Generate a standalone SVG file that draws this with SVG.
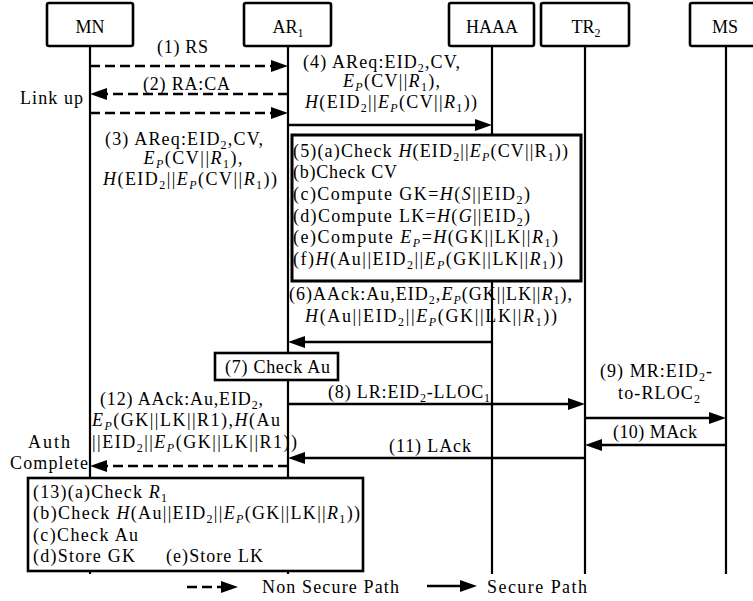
<svg xmlns="http://www.w3.org/2000/svg" width="753" height="601" viewBox="0 0 753 601">
  <style>
    .t { font-family: "Liberation Serif", "Times New Roman", serif; font-size: 18px; fill: #000; }
    .m { text-anchor: middle; }
    .i { font-style: italic; }
    .b { font-size: 12px; baseline-shift: -3.5px; }
    .box { fill: #fff; stroke: #000; stroke-width: 2.6; }
    .life { stroke: #000; stroke-width: 2.2; fill: none; }
    .msg { stroke: #000; stroke-width: 2.5; fill: none; marker-end: url(#ah); }
    .dash { stroke-dasharray: 10 5; }
  </style>
  <defs>
    <marker id="ah" markerUnits="userSpaceOnUse" markerWidth="17" markerHeight="13" refX="7" refY="6.5" orient="auto">
      <path d="M0,0.5 L17,6.5 L0,12.5 z" fill="#000"/>
    </marker>
  </defs>
  <rect width="753" height="601" fill="#fff"/>

  <!-- participants: header box, name and lifeline -->
  <g id="node-mn">
    <line class="life" x1="90" y1="46" x2="90" y2="574"/>
    <rect class="box" x="47" y="3" width="86" height="43" rx="2"/>
    <text class="t m" x="90" y="33">MN</text>
  </g>
  <g id="node-ar1">
    <line class="life" x1="288" y1="46" x2="288" y2="574"/>
    <rect class="box" x="244" y="3" width="87" height="43" rx="2"/>
    <text class="t m" x="288" y="33">AR<tspan class="b">1</tspan></text>
  </g>
  <g id="node-haaa">
    <line class="life" x1="492" y1="46" x2="492" y2="574"/>
    <rect class="box" x="449" y="3" width="85" height="43" rx="2"/>
    <text class="t m" x="492" y="33">HAAA</text>
  </g>
  <g id="node-tr2">
    <line class="life" x1="585" y1="46" x2="585" y2="574"/>
    <rect class="box" x="541" y="3" width="88" height="43" rx="2"/>
    <text class="t m" x="586" y="33">TR<tspan class="b">2</tspan></text>
  </g>
  <g id="node-ms">
    <line class="life" x1="726" y1="46" x2="726" y2="574"/>
    <rect class="box" x="690" y="3" width="72" height="43" rx="2"/>
    <text class="t m" x="725" y="33">MS</text>
  </g>

  <!-- messages -->
  <g id="connectors">
    <line class="msg dash" x1="90" y1="66" x2="278" y2="66"/>
    <line class="msg dash" x1="288" y1="94" x2="100" y2="94"/>
    <line class="msg dash" x1="90" y1="113" x2="278" y2="113"/>
    <line class="msg" x1="288" y1="125" x2="482" y2="125"/>
    <line class="msg" x1="492" y1="342" x2="298" y2="342"/>
    <line class="msg" x1="288" y1="404" x2="575" y2="404"/>
    <line class="msg" x1="585" y1="418" x2="716" y2="418"/>
    <line class="msg" x1="726" y1="445" x2="595" y2="445"/>
    <line class="msg" x1="585" y1="458" x2="298" y2="458"/>
    <line class="msg dash" x1="288" y1="466" x2="100" y2="466"/>
  </g>

  <!-- message labels -->
  <g id="labels">
    <text class="t m" x="182.5" y="53" textLength="51">(1) RS</text>
    <text class="t m" x="186.5" y="90" textLength="87">(2) RA:CA</text>
    <text class="t" x="20" y="104" textLength="63">Link up</text>

    <text class="t m" x="381.5" y="68" textLength="157">(4) AReq:EID<tspan class="b">2</tspan>,CV,</text>
    <text class="t m" x="391.5" y="87" textLength="97"><tspan class="i">E</tspan><tspan class="i b">P</tspan>(CV||<tspan class="i">R</tspan><tspan class="b">1</tspan>),</text>
    <text class="t m" x="391" y="108" textLength="172"><tspan class="i">H</tspan>(EID<tspan class="b">2</tspan>||<tspan class="i">E</tspan><tspan class="i b">P</tspan>(CV||<tspan class="i">R</tspan><tspan class="b">1</tspan>))</text>

    <text class="t m" x="184" y="145" textLength="158">(3) AReq:EID<tspan class="b">2</tspan>,CV,</text>
    <text class="t m" x="193" y="164" textLength="99"><tspan class="i">E</tspan><tspan class="i b">P</tspan>(CV||<tspan class="i">R</tspan><tspan class="b">1</tspan>),</text>
    <text class="t m" x="190" y="185" textLength="174"><tspan class="i">H</tspan>(EID<tspan class="b">2</tspan>||<tspan class="i">E</tspan><tspan class="i b">P</tspan>(CV||<tspan class="i">R</tspan><tspan class="b">1</tspan>))</text>

    <text class="t" x="289" y="300" textLength="283">(6)AAck:Au,EID<tspan class="b">2</tspan>,<tspan class="i">E</tspan><tspan class="i b">P</tspan>(GK||LK||<tspan class="i">R</tspan><tspan class="b">1</tspan>),</text>
    <text class="t" x="305" y="322" textLength="252"><tspan class="i">H</tspan>(Au||EID<tspan class="b">2</tspan>||<tspan class="i">E</tspan><tspan class="i b">P</tspan>(GK||LK||<tspan class="i">R</tspan><tspan class="b">1</tspan>))</text>

    <text class="t" x="328" y="398" textLength="162">(8) LR:EID<tspan class="b">2</tspan>-LLOC<tspan class="b">1</tspan></text>
    <text class="t m" x="656" y="377" textLength="112">(9) MR:EID<tspan class="b">2</tspan>-</text>
    <text class="t m" x="659" y="399" textLength="82">to-RLOC<tspan class="b">2</tspan></text>
    <text class="t m" x="655" y="438" textLength="84">(10) MAck</text>
    <text class="t m" x="430" y="452" textLength="82">(11) LAck</text>

    <text class="t" x="100" y="405" textLength="163">(12) AAck:Au,EID<tspan class="b">2</tspan>,</text>
    <text class="t" x="92" y="426" textLength="188"><tspan class="i">E</tspan><tspan class="i b">P</tspan>(GK||LK||R1),<tspan class="i">H</tspan>(Au</text>
    <text class="t" x="92" y="448" textLength="205">||EID<tspan class="b">2</tspan>||<tspan class="i">E</tspan><tspan class="i b">P</tspan>(GK||LK||R1))</text>
    <text class="t m" x="49" y="448" textLength="42">Auth</text>
    <text class="t m" x="49" y="469" textLength="78">Complete</text>
  </g>

  <!-- HAAA processing -->
  <g id="note-5">
    <rect x="292" y="135" width="289" height="146" fill="#fff" stroke="#000" stroke-width="3"/>
    <text class="t" x="293" y="157" textLength="275">(5)(a)Check <tspan class="i">H</tspan>(EID<tspan class="b">2</tspan>||<tspan class="i">E</tspan><tspan class="i b">P</tspan>(CV||R<tspan class="b">1</tspan>))</text>
    <text class="t" x="293" y="178" textLength="104">(b)Check CV</text>
    <text class="t" x="293" y="200" textLength="237">(c)Compute GK=<tspan class="i">H</tspan>(<tspan class="i">S</tspan>||EID<tspan class="b">2</tspan>)</text>
    <text class="t" x="293" y="222" textLength="237">(d)Compute LK=<tspan class="i">H</tspan>(<tspan class="i">G</tspan>||EID<tspan class="b">2</tspan>)</text>
    <text class="t" x="293" y="243" textLength="265">(e)Compute <tspan class="i">E</tspan><tspan class="i b">P</tspan>=<tspan class="i">H</tspan>(GK||LK||<tspan class="i">R</tspan><tspan class="b">1</tspan>)</text>
    <text class="t" x="293" y="265" textLength="270">(f)<tspan class="i">H</tspan>(Au||EID<tspan class="b">2</tspan>||<tspan class="i">E</tspan><tspan class="i b">P</tspan>(GK||LK||<tspan class="i">R</tspan><tspan class="b">1</tspan>))</text>
  </g>

  <!-- AR1 check -->
  <g id="note-7">
    <rect x="215" y="353" width="123" height="27" fill="#fff" stroke="#000" stroke-width="2.6"/>
    <text class="t" x="225" y="373" textLength="105">(7) Check Au</text>
  </g>

  <!-- MN verification -->
  <g id="note-13">
    <rect x="28" y="478" width="335" height="93" fill="#fff" stroke="#000" stroke-width="2.6"/>
    <text class="t" x="33" y="498" textLength="134">(13)(a)Check <tspan class="i">R</tspan><tspan class="b">1</tspan></text>
    <text class="t" x="33" y="519" textLength="327">(b)Check <tspan class="i">H</tspan>(Au||EID<tspan class="b">2</tspan>||<tspan class="i">E</tspan><tspan class="i b">P</tspan>(GK||LK||<tspan class="i">R</tspan><tspan class="b">1</tspan>))</text>
    <text class="t" x="33" y="541" textLength="105">(c)Check Au</text>
    <text class="t" x="33" y="562" textLength="102">(d)Store GK</text>
    <text class="t" x="166" y="562" textLength="97">(e)Store LK</text>
  </g>

  <!-- legend -->
  <g id="legend">
    <line class="msg dash" x1="187" y1="587" x2="228" y2="587"/>
    <text class="t" x="262" y="593" textLength="137">Non Secure Path</text>
    <line class="msg" x1="427" y1="586" x2="467" y2="586"/>
    <text class="t" x="487" y="593" textLength="100">Secure Path</text>
  </g>
</svg>
